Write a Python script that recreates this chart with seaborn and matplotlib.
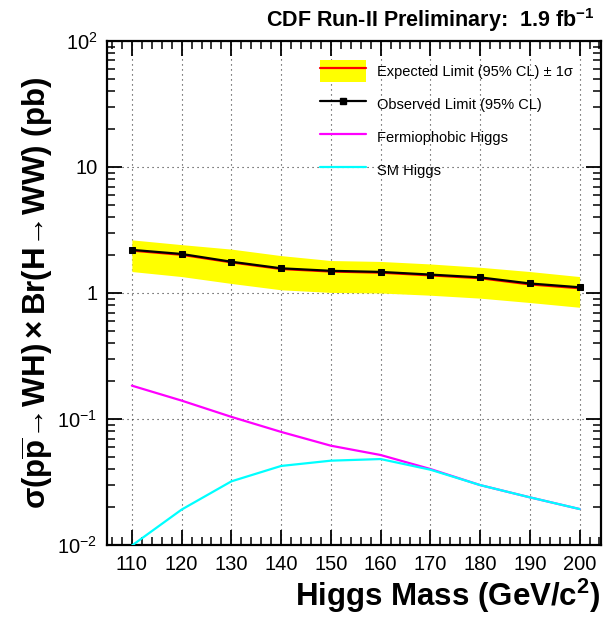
import numpy as np
import pandas as pd
import matplotlib
matplotlib.use("Agg")
import matplotlib.pyplot as plt
from matplotlib.lines import Line2D
from matplotlib.patches import Patch
from matplotlib.ticker import FixedLocator, MultipleLocator, LogLocator, NullFormatter
import seaborn as sns

# Values
mass = [110, 120, 130, 140, 150, 160, 170, 180, 190, 200]
observed = [2.20, 2.04, 1.77, 1.57, 1.50, 1.47, 1.40, 1.33, 1.19, 1.11]
expected = [2.17, 2.01, 1.75, 1.55, 1.48, 1.45, 1.38, 1.31, 1.17, 1.09]
exp_upper = [2.64, 2.42, 2.23, 1.98, 1.81, 1.78, 1.70, 1.60, 1.48, 1.35]
exp_lower = [1.48, 1.35, 1.19, 1.06, 1.01, 1.00, 0.96, 0.91, 0.84, 0.77]
fermiophobic = [0.184, 0.140, 0.104, 0.079, 0.0614, 0.0518, 0.0401, 0.0299, 0.0239, 0.0193]
sm_higgs = [0.0099, 0.0191, 0.0320, 0.0424, 0.0467, 0.0481, 0.0396, 0.0299, 0.0239, 0.0193]

x_ticks = [110, 120, 130, 140, 150, 160, 170, 180, 190, 200]
y_ticks = [0.01, 0.1, 1, 10, 100]
y_ticklabels = [r"$10^{-2}$", r"$10^{-1}$", "1", "10", r"$10^{2}$"]

legend_labels = ["Expected Limit (95% CL) ± 1σ", "Observed Limit (95% CL)",
                 "Fermiophobic Higgs", "SM Higgs"]

df = pd.DataFrame({"mass": mass, "observed": observed, "expected": expected,
                   "upper": exp_upper, "lower": exp_lower,
                   "fermiophobic": fermiophobic, "sm": sm_higgs})

sns.set_style("ticks")
plt.rcParams["font.family"] = ["Liberation Sans", "DejaVu Sans"]
plt.rcParams["mathtext.fontset"] = "custom"
plt.rcParams["mathtext.rm"] = "Liberation Sans"
plt.rcParams["mathtext.it"] = "Liberation Sans:italic"
plt.rcParams["mathtext.bf"] = "Liberation Sans:bold"
plt.rcParams["mathtext.sf"] = "Liberation Sans"
plt.rcParams["text.color"] = "black"
plt.rcParams["axes.labelcolor"] = "black"
plt.rcParams["xtick.color"] = "black"
plt.rcParams["ytick.color"] = "black"

fig = plt.figure(figsize=(6.12, 6.18), dpi=100)
ax = fig.add_axes([0.1748, 0.1181, 0.8072, 0.8156])
ax.set_yscale("log")

# expected band + lines
ax.fill_between(df["mass"], df["lower"], df["upper"], color="#ffff00", lw=0, zorder=2)
sns.lineplot(data=df, x="mass", y="expected", ax=ax, color="#ff0000", lw=1.6, zorder=3)
sns.lineplot(data=df, x="mass", y="observed", ax=ax, color="black", lw=1.6,
             marker="s", markersize=5, markeredgecolor="black", zorder=4)
sns.lineplot(data=df, x="mass", y="fermiophobic", ax=ax, color="#ff00ff", lw=1.6, zorder=3)
sns.lineplot(data=df, x="mass", y="sm", ax=ax, color="#00ffff", lw=1.6, zorder=4)

ax.set_xlim(105, 204.3)
ax.set_ylim(0.01, 100)

ax.xaxis.set_major_locator(FixedLocator(x_ticks))
ax.xaxis.set_minor_locator(MultipleLocator(2))
ax.set_xticklabels([str(t) for t in x_ticks])
ax.yaxis.set_major_locator(FixedLocator(y_ticks))
ax.set_yticklabels(y_ticklabels)
ax.yaxis.set_minor_locator(LogLocator(base=10, subs=np.arange(2, 10)))
ax.yaxis.set_minor_formatter(NullFormatter())

ax.tick_params(which="major", direction="in", length=11, width=1.3, top=True, right=True,
               labelsize=14.5, pad=7, colors="black")
ax.tick_params(which="minor", direction="in", length=6, width=1.1, top=True, right=True,
               colors="black")
for s in ax.spines.values():
    s.set_linewidth(1.6)
    s.set_color("black")

ax.grid(True, which="major", color="#333333", linestyle=(0, (1, 3.5)), lw=0.8, zorder=1)
ax.set_axisbelow(True)

ax.set_xlabel(r"Higgs Mass (GeV/c$^{\mathbf{2}}$)", fontsize=22.5, fontweight="bold",
              loc="right", labelpad=2)
ax.set_ylabel(r"$\mathbf{\sigma(p\overline{p}\!\rightarrow\! WH)\times Br(H\!\rightarrow\! WW)}$ (pb)",
              fontsize=22.5, fontweight="bold", labelpad=1)

fig.text(0.972, 0.968, r"CDF Run-II Preliminary:  1.9 fb$^{\mathbf{-1}}$", fontsize=15.5,
         fontweight="bold", ha="right", va="center")

handles = [
    (Patch(facecolor="#ffff00", edgecolor="none"), Line2D([], [], color="#ff0000", lw=1.6)),
    Line2D([], [], color="black", lw=1.6, marker="s", markersize=5),
    Line2D([], [], color="#ff00ff", lw=1.6),
    Line2D([], [], color="#00ffff", lw=1.6),
]
ax.legend(handles, legend_labels, loc="upper left", bbox_to_anchor=(0.431, 0.962),
          frameon=False, fontsize=10.5, handlelength=3.15, handleheight=1.95,
          handletextpad=0.75, labelspacing=0.76, borderpad=0, borderaxespad=0)

fig.savefig("out.png", dpi=100)
